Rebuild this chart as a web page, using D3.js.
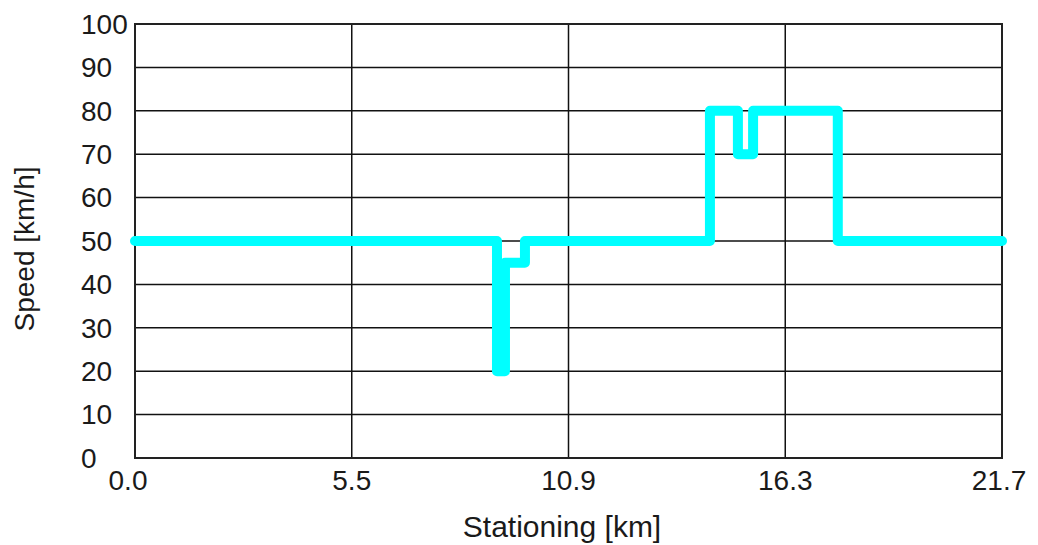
<!DOCTYPE html>
<html>
<head>
<meta charset="utf-8">
<script src="https://cdn.jsdelivr.net/npm/d3@7"></script>
<style>
  html, body { margin: 0; padding: 0; background: #fff; }
  svg { display: block; font-family: "Liberation Sans", Arial, sans-serif; }
</style>
</head>
<body>
<svg id="chart" width="1038" height="545"></svg>
<script>
// ---- data ----
const stationKm = [0, 9.06, 9.06, 9.26, 9.26, 9.76, 9.76, 14.39, 14.39, 15.09, 15.09, 15.47, 15.47, 17.59, 17.59, 21.7];
const speedKmh  = [50, 50,   20,   20,   45,   45,   50,   50,    80,    80,    70,    70,    80,    80,    50,    50];
const xTickValues = [0, 5.425, 10.85, 16.275, 21.7];
const xTickLabels = ["0.0", "5.5", "10.9", "16.3", "21.7"];
const yTickValues = [0, 10, 20, 30, 40, 50, 60, 70, 80, 90, 100];
const xTitle = "Stationing [km]";
const yTitle = "Speed [km/h]";

// ---- layout ----
const svg = d3.select("#chart");
const L = 135, R = 1002, T = 24, B = 458;
const x = d3.scaleLinear().domain([0, 21.7]).range([L, R]);
const y = d3.scaleLinear().domain([0, 100]).range([B, T]);

// grid
const grid = svg.append("g").attr("stroke", "#111").attr("stroke-width", 1.5);
grid.selectAll("line.h").data(yTickValues).join("line")
  .attr("x1", L).attr("x2", R).attr("y1", d => y(d)).attr("y2", d => y(d));
grid.selectAll("line.v").data(xTickValues).join("line")
  .attr("y1", T).attr("y2", B).attr("x1", d => x(d)).attr("x2", d => x(d));

// frame
svg.append("rect").attr("x", L).attr("y", T).attr("width", R - L).attr("height", B - T)
  .attr("fill", "none").attr("stroke", "#222").attr("stroke-width", 2);

// y tick labels
svg.append("g").selectAll("text").data(yTickValues).join("text")
  .attr("x", 81).attr("y", d => y(d)).attr("dy", "0.35em")
  .attr("font-size", 28).attr("fill", "#1a1a1a")
  .text(d => d);

// x tick labels
svg.append("g").selectAll("text").data(xTickValues).join("text")
  .attr("x", (d, i) => x(d) - (i === 0 ? 7 : (i === 4 ? 3 : 0)))
  .attr("y", 490).attr("text-anchor", "middle")
  .attr("font-size", 28).attr("fill", "#1a1a1a")
  .text((d, i) => xTickLabels[i]);

// titles
svg.append("text").attr("x", 562).attr("y", 537).attr("text-anchor", "middle")
  .attr("font-size", 30).attr("fill", "#1a1a1a").text(xTitle);
svg.append("text").attr("transform", "translate(34,249) rotate(-90)")
  .attr("text-anchor", "middle").attr("font-size", 28).attr("fill", "#1a1a1a").text(yTitle);

// speed profile
const pts = stationKm.map((s, i) => [s, speedKmh[i]]);
svg.append("path").datum(pts)
  .attr("d", d3.line().x(d => x(d[0])).y(d => y(d[1])))
  .attr("fill", "none").attr("stroke", "#00FFFF").attr("stroke-width", 10)
  .attr("stroke-linejoin", "round").attr("stroke-linecap", "round");
</script>
</body>
</html>
